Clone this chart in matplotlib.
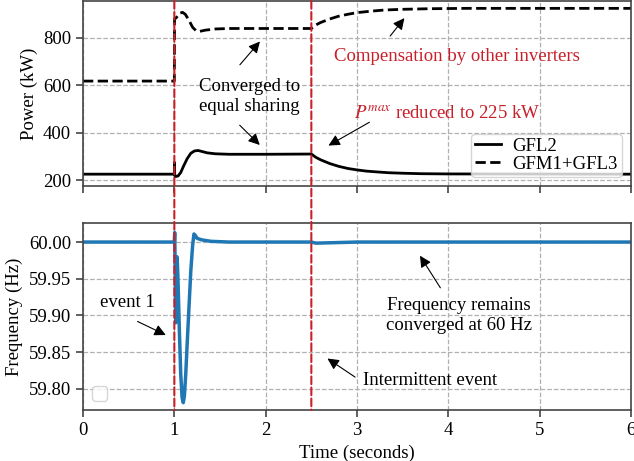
import matplotlib
matplotlib.use("Agg")
import matplotlib.pyplot as plt
from matplotlib.patches import ConnectionPatch

plt.rcParams['font.family'] = ['Liberation Serif', 'DejaVu Serif']
plt.rcParams['mathtext.fontset'] = 'stix'
plt.rcParams['font.size'] = 13.5

# power traces (kW)
t_gfl2 = [0.0, 1.0, 1.001, 1.004, 1.01, 1.04, 1.07, 1.10, 1.14, 1.18, 1.22, 1.26,
          1.30, 1.36, 1.45, 1.6, 2.0, 2.5, 2.55, 2.6, 2.7, 2.8, 2.9, 3.0, 3.1,
          3.2, 3.35, 3.5, 3.7, 4.0, 6.0]
p_gfl2 = [225, 225, 275, 225, 215, 217, 232, 258, 290, 313, 323, 325,
          321, 315, 311, 309, 309, 310, 296, 286, 270, 258, 249, 243, 238,
          235, 231, 229, 227, 226, 225]

t_gfm = [0.0, 1.0, 1.002, 1.02, 1.04, 1.06, 1.09, 1.12, 1.16, 1.20, 1.24, 1.28,
         1.34, 1.45, 1.6, 2.5, 2.55, 2.6, 2.7, 2.8, 2.9, 3.0, 3.15, 3.3, 3.5,
         3.8, 4.2, 6.0]
p_gfm = [618, 618, 880, 885, 895, 905, 908, 900, 875, 845, 830, 828,
         833, 838, 840, 840, 855, 865, 880, 892, 900, 907, 913, 918, 921,
         923.5, 925, 925]

# grid frequency (Hz)
t_freq = [0.0, 1.0, 1.004, 1.010, 1.016, 1.022, 1.028, 1.034, 1.042, 1.055, 1.07,
          1.085, 1.098, 1.11, 1.125, 1.14, 1.16, 1.18, 1.20, 1.215, 1.23, 1.25,
          1.3, 1.4, 1.6, 2.5, 2.55, 2.7, 3.0, 6.0]
f_freq = [60.0, 60.0, 60.013, 59.96, 59.89, 59.94, 59.98, 59.97, 59.94, 59.88, 59.82,
          59.788, 59.781, 59.79, 59.82, 59.86, 59.91, 59.96, 59.995, 60.011, 60.009, 60.005,
          60.003, 60.001, 60.0, 60.0, 59.9985, 59.999, 60.0, 60.0]

events = [1.0, 2.5]

fig = plt.figure(figsize=(6.34, 4.61), dpi=100)
ax1 = fig.add_axes([0.1309, 0.5965, 0.8644, 0.4013])
ax2 = fig.add_axes([0.1309, 0.1106, 0.8644, 0.4057])

red = '#c8202a'
spine_c = '#444444'

ax1.plot(t_gfl2, p_gfl2, color='black', lw=2, label='GFL2')
ax1.plot(t_gfm, p_gfm, color='black', lw=2, ls='--', label='GFM1+GFL3')
ax2.plot(t_freq, f_freq, color='#1f77b4', lw=2.5)

for ax in (ax1, ax2):
    ax.set_xlim(0, 6)
    ax.grid(True, ls='--', color='#b0b0b0', lw=0.9)
    for s in ax.spines.values():
        s.set_color(spine_c)
        s.set_linewidth(1.2)
    ax.tick_params(color=spine_c, length=5, width=1.2)

ax1.set_ylim(175, 956)
ax1.set_yticks([200, 400, 600, 800])
ax1.tick_params(labelbottom=False)
ax1.set_ylabel('Power (kW)')

ax2.set_ylim(59.771, 60.026)
ax2.set_yticks([59.80, 59.85, 59.90, 59.95, 60.00])
ax2.set_yticklabels(['59.80', '59.85', '59.90', '59.95', '60.00'])
ax2.set_xticks([0, 1, 2, 3, 4, 5, 6])
ax2.set_xlabel('Time (seconds)')
ax2.set_ylabel('Frequency (Hz)')

leg = ax1.legend(loc='lower right', fontsize=13.5, handlelength=1.4,
                 labelspacing=0.05, borderpad=0.2, handletextpad=0.6)
ax2.legend(handles=[], loc='lower left')

# event markers through both panels
for te in events:
    con = ConnectionPatch(xyA=(te, 1), coordsA=ax1.get_xaxis_transform(),
                          xyB=(te, 0), coordsB=ax2.get_xaxis_transform(),
                          color=red, lw=1.5, ls='--', zorder=10)
    fig.add_artist(con)

arw = dict(arrowstyle='-|>', color='black', lw=0.8, mutation_scale=17)

ax1.text(1.826, 553, 'Converged to\nequal sharing', ha='center', va='center')
ax1.annotate('', xy=(1.957, 794), xytext=(1.698, 678), arrowprops=arw)
ax1.annotate('', xy=(1.957, 340), xytext=(1.694, 440), arrowprops=arw)
ax1.text(4.09, 721, 'Compensation by other inverters', color=red, ha='center', va='center')
ax1.annotate('', xy=(3.538, 893), xytext=(3.344, 799), arrowprops=arw)
ax1.text(3.99, 478, r'$P^{max}$ reduced to 225 kW', color=red, ha='center', va='center')
ax1.annotate('', xy=(2.661, 340), xytext=(3.162, 450), arrowprops=arw)

ax2.text(0.49, 59.917, 'event 1', ha='center', va='center')
ax2.annotate('', xy=(0.934, 59.8716), xytext=(0.570, 59.8934), arrowprops=arw)
ax2.text(4.12, 59.900, 'Frequency remains\nconverged at 60 Hz', ha='center', va='center')
ax2.annotate('', xy=(3.673, 59.9846), xytext=(3.929, 59.9344), arrowprops=arw)
ax2.text(3.795, 59.8115, 'Intermittent event', ha='center', va='center')
ax2.annotate('', xy=(2.651, 59.8433), xytext=(3.004, 59.8138), arrowprops=arw)

fig.savefig('out.png', dpi=100)
